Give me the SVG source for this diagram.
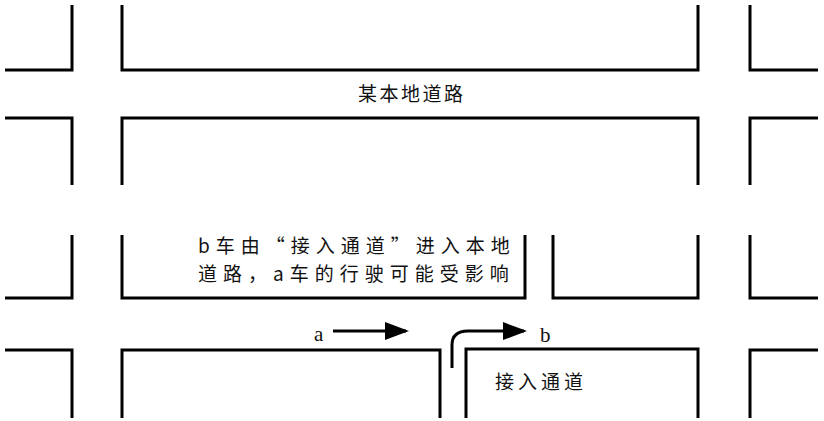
<svg xmlns="http://www.w3.org/2000/svg" width="824" height="421" viewBox="0 0 824 421">
<style>
.r{fill:none;stroke:#000;stroke-width:3}
.a{fill:none;stroke:#000;stroke-width:3}
text{font-family:"Noto Sans CJK SC","Liberation Serif",serif;font-size:19px;fill:#111}
.l{font-family:"Liberation Serif",serif;font-size:21px}
</style>
<defs><marker id="m" markerWidth="8" markerHeight="6" refX="7" refY="3" orient="auto" markerUnits="strokeWidth"><path d="M0,0L8,3L0,6z" fill="#000"/></marker></defs>
<rect width="824" height="421" fill="#fff"/>
<g id="roads">
<path class="r" d="M5,70H72V5M122,5V70H698V5M750,5V70H818"/>
<path class="r" d="M5,118H72V185M122,185V118H698V185M750,185V118H818"/>
<path class="r" d="M72,235V298H5M122,235V298H525V235M553,235V298H698V235M750,235V298H818"/>
<path class="r" d="M5,350H72V418M122,418V350H440V418M466,418V349H698V418M750,418V350H818"/>
</g>
<g id="connectors">
<path class="a" d="M333,331H406" marker-end="url(#m)"/>
<path class="a" d="M452,368V345Q452,331 468,331H524" marker-end="url(#m)"/>
</g>
<g id="labels">
<text x="358" y="101" letter-spacing="2.5">某本地道路</text>
<text x="198" y="253" letter-spacing="6">b车由“接入通道”进入本地</text>
<text x="198" y="281" letter-spacing="6">道路，a车的行驶可能受影响</text>
<text x="495" y="389" letter-spacing="4">接入通道</text>
<text class="l" x="314" y="341">a</text>
<text class="l" x="540" y="342">b</text>
</g>
</svg>
